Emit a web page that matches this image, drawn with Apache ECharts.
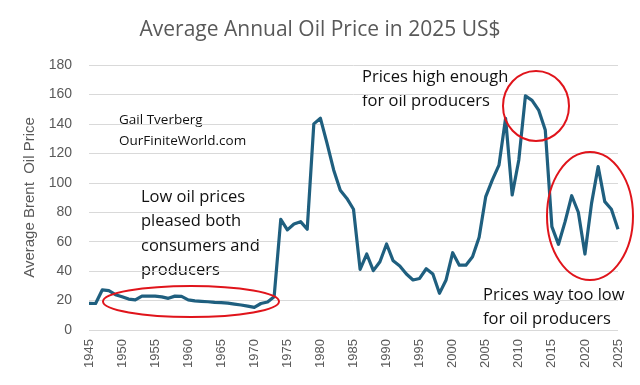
<!DOCTYPE html>
<html>
<head>
<meta charset="utf-8">
<script src="https://cdn.jsdelivr.net/npm/echarts@6/dist/echarts.min.js"></script>
<style>
html,body{margin:0;padding:0;background:#fff;}
#chart{width:640px;height:385px;}
</style>
</head>
<body>
<div id="chart"></div>
<script>
var years = [];
for (var y = 1945; y <= 2025; y++) years.push(String(y));

var prices = [
  18.1, 18.0, 27.2, 26.7, 24.0, 22.6, 21.0, 20.5, 23.0, 23.0,
  23.0, 22.5, 21.5, 23.0, 22.8, 20.5, 19.8, 19.5, 19.2, 18.8,
  18.6, 18.2, 17.6, 17.0, 16.2, 15.4, 18.0, 19.0, 22.6, 75.2,
  68.0, 72.0, 73.6, 68.4, 140.0, 143.8, 126.8, 108.7, 95.0, 89.4,
  82.0, 41.2, 51.6, 40.3, 46.4, 58.4, 47.0, 43.5, 38.0, 34.0,
  35.0, 41.6, 38.0, 24.9, 34.0, 52.5, 44.0, 44.0, 49.8, 63.0,
  90.6, 102.0, 112.0, 143.8, 91.7, 115.5, 159.0, 156.0, 149.4, 135.9,
  70.2, 58.2, 73.6, 91.2, 80.0, 51.6, 86.0, 111.0, 87.2, 82.0,
  68.4
];

var yTicks = [0, 20, 40, 60, 80, 100, 120, 140, 160, 180];

var titleText = 'Average Annual Oil Price in 2025 US$';
var yAxisName = 'Average Brent  Oil Price';
var noteAuthor = ['Gail Tverberg', 'OurFiniteWorld.com'];
var noteLow = ['Low oil prices', 'pleased both', 'consumers and', 'producers'];
var noteHigh = ['Prices high enough', 'for oil producers'];
var noteTooLow = ['Prices way too low', 'for oil producers'];

var font = 'Open Sans, Noto Sans, sans-serif';
var axisFont = 'Liberation Sans, Arial, sans-serif';
var gray = '#595959';
var red = '#e0141b';

var chart = echarts.init(document.getElementById('chart'), null, {renderer: 'canvas'});

function textEl(lines, x, y, size, lh) {
  return {
    type: 'text', left: x, top: y, silent: true,
    style: {text: lines.join('\n'), font: size + 'px ' + font, fill: '#111', lineHeight: lh}
  };
}
function ellipseEl(cx, cy, rx, ry) {
  return {
    type: 'ellipse', silent: true, z: 10,
    shape: {cx: cx, cy: cy, rx: rx, ry: ry},
    style: {fill: 'none', stroke: red, lineWidth: 2}
  };
}

chart.setOption({
  backgroundColor: '#fff',
  animation: false,
  title: {
    text: titleText, left: 'center', top: 15,
    textStyle: {fontFamily: font, fontSize: 21, fontWeight: 'normal', color: gray}
  },
  grid: {left: 89, right: 22, top: 65, bottom: 55, containLabel: false},
  xAxis: {
    type: 'category', data: years, boundaryGap: false,
    axisLine: {show: false},
    axisTick: {show: false},
    splitLine: {show: false},
    axisLabel: {
      rotate: 90, margin: 9, color: gray, fontFamily: axisFont, fontSize: 13,
      interval: function (i, v) { return Number(v) % 5 === 0; }
    }
  },
  yAxis: {
    type: 'value', min: yTicks[0], max: yTicks[yTicks.length - 1], interval: 20,
    name: yAxisName, nameLocation: 'middle', nameGap: 50,
    nameTextStyle: {color: gray, fontFamily: axisFont, fontSize: 15},
    axisLine: {show: false}, axisTick: {show: false},
    axisLabel: {color: gray, fontFamily: axisFont, fontSize: 14, margin: 17},
    splitLine: {lineStyle: {color: '#d9d9d9', width: 1}}
  },
  series: [{
    type: 'line', data: prices, showSymbol: false, symbol: 'none',
    lineStyle: {color: '#1f5f7f', width: 3.2, join: 'round'},
    z: 5
  }],
  graphic: [
    textEl(noteAuthor, 119, 110, 13.5, 21),
    textEl(noteLow, 141, 185, 16.5, 24.5),
    textEl(noteHigh, 362, 65, 16.5, 24),
    textEl(noteTooLow, 483, 283, 16.5, 24),
    ellipseEl(191, 301.5, 88, 15.5),
    ellipseEl(536, 106, 33, 35),
    ellipseEl(590, 216, 43, 64)
  ]
});
</script>
</body>
</html>
